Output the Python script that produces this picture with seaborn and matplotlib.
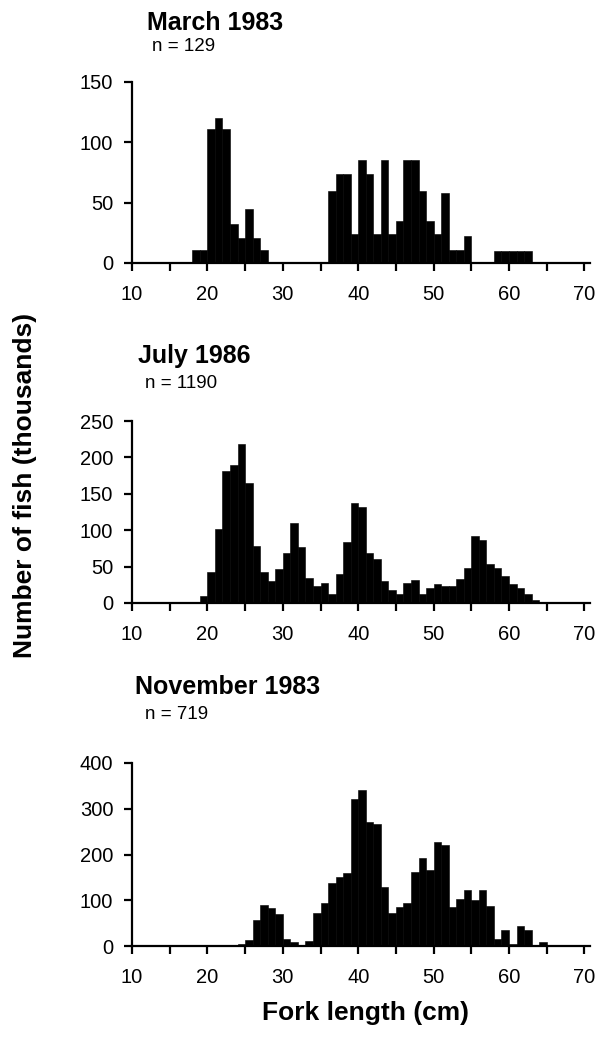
import numpy as np
import pandas as pd
import matplotlib
matplotlib.use("Agg")
import matplotlib.pyplot as plt
import seaborn as sns
from matplotlib.ticker import MultipleLocator

# ---- data: numbers of fish (thousands) per 1-cm fork-length class (left edge 10..69)
length_cm = list(range(10, 70))

march_1983 = [0, 0, 0, 0, 0, 0, 1, 1, 11, 11,
              111, 120, 111, 32, 21, 45, 21, 11, 0, 0,
              0, 0, 0, 0, 0, 0, 60, 74, 74, 24,
              85, 74, 24, 85, 24, 35, 85, 85, 60, 35,
              24, 58, 11, 11, 22, 0, 0, 0, 10, 10,
              10, 10, 10, 0, 0, 0, 0, 0, 0, 1]

july_1986 = [0, 0, 0, 0, 0, 0, 1, 1, 1, 10,
             43, 102, 182, 190, 218, 165, 78, 43, 30, 47,
             68, 110, 77, 35, 24, 27, 13, 40, 84, 138,
             132, 68, 61, 30, 18, 12, 27, 31, 12, 20,
             26, 23, 23, 33, 48, 92, 86, 53, 48, 37,
             26, 20, 13, 4, 1, 1, 1, 1, 1, 1]

november_1983 = [0, 0, 0, 0, 0, 0, 2, 2, 2, 2,
                 2, 2, 2, 2, 5, 13, 56, 90, 82, 69,
                 16, 9, 1, 12, 72, 94, 138, 151, 159, 322,
                 342, 271, 266, 129, 72, 85, 94, 162, 193, 167,
                 228, 220, 85, 103, 123, 101, 123, 88, 16, 35,
                 5, 43, 35, 3, 8, 2, 2, 2, 2, 2]

panel_titles = ["March 1983", "July 1986", "November 1983"]
panel_n = ["n = 129", "n = 1190", "n = 719"]
y_max = [150, 250, 400]
y_step = [50, 50, 100]
x_ticks = [10, 20, 30, 40, 50, 60, 70]
y_label = "Number of fish (thousands)"
x_label = "Fork length (cm)"

series = [march_1983, july_1986, november_1983]

sns.set_style("ticks")
plt.rcParams["font.family"] = ["Liberation Sans", "DejaVu Sans"]

W, H = 604, 1040
fig = plt.figure(figsize=(W / 100, H / 100), dpi=100)

# axes boxes in pixel coordinates (top, bottom)
left_px = 132
px_per_cm = 7.54
xmax = 70.8
boxes = [(82, 263), (421, 603), (763, 946)]
title_pos = [(147, 30, 152, 51), (138, 363, 145, 388), (135, 694, 145, 719)]

edges = list(range(10, 71))

for i, (vals, (top, bot)) in enumerate(zip(series, boxes)):
    width_px = (xmax - 10) * px_per_cm
    ax = fig.add_axes([left_px / W, 1 - bot / H, width_px / W, (bot - top) / H])
    df = pd.DataFrame({"length": length_cm, "fish": vals})
    sns.histplot(data=df, x="length", weights="fish", bins=edges, ax=ax,
                 color="black", alpha=1, edgecolor="black", linewidth=0.4,
                 element="bars")
    ax.set_xlim(10, xmax)
    ax.set_ylim(0, y_max[i])
    ax.set_xticks(x_ticks)
    ax.xaxis.set_minor_locator(MultipleLocator(5))
    ax.set_yticks(np.arange(0, y_max[i] + 1, y_step[i]))
    ax.set_xlabel("")
    ax.set_ylabel("")
    sns.despine(ax=ax)
    for s in ["left", "bottom"]:
        ax.spines[s].set_linewidth(1.6)
        ax.spines[s].set_color("black")
    ax.tick_params(axis="both", which="both", direction="out", length=5.5,
                   width=1.6, color="black", labelsize=14.5, labelcolor="black")
    ax.tick_params(axis="x", pad=10)
    ax.tick_params(axis="y", pad=8)
    ax.patch.set_alpha(0)

    tx, ty, nx, ny = title_pos[i]
    fig.text(tx / W, 1 - ty / H, panel_titles[i], fontsize=18, fontweight="bold",
             ha="left", va="baseline", color="black")
    fig.text(nx / W, 1 - ny / H, panel_n[i], fontsize=13.5, ha="left",
             va="baseline", color="black")

fig.text(25 / W, 1 - 485 / H, y_label, rotation=90, fontsize=19,
         fontweight="bold", ha="center", va="center", color="black")
fig.text(365 / W, 1 - 1020 / H, x_label, fontsize=19, fontweight="bold",
         ha="center", va="baseline", color="black")

fig.savefig("out.png", dpi=100, facecolor="white")
